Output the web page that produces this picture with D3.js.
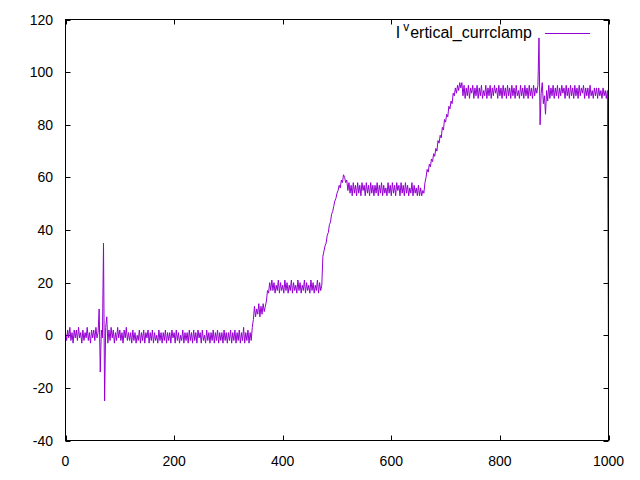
<!DOCTYPE html>
<html>
<head>
<meta charset="utf-8">
<style>
    body { margin: 0; background: #fff; }
    text { font-family: "Liberation Sans", Arial, sans-serif; }
</style>
<script src="https://cdn.jsdelivr.net/npm/d3@7/dist/d3.min.js"></script>
</head>
<body>
<svg width="640" height="480"></svg>
<script>
// samples every 2 time units (one row = 20 units)
var sampleStep = 2;
var current = [
    1, -2, 2, -1, 3, -2, 1, -3, 2, -1,
    2, -2, 3, -1, 1, -3, 2, -2, 1, -1,
    3, -2, 1, -3, 2, -1, 2, -2, 3, -1,
    1, 10, -14, 2, -1, 35, -25, 3, 7, -3,
    2, -2, 3, -1, 2, -3, 1, -2, 3, -1,
    2, -2, 1, -3, 2, -1, 3, -2, 1, -2,
    1, -3, 2, -2, 1, -3, 0, -2, 2, -3,
    1, -2, 2, -3, 1, -1, 2, -3, 1, -2,
    2, -3, 1, -2, 0, -3, 2, -2, 1, -3,
    1, -2, 2, -3, 1, -2, 1, -3, 2, -1,
    1, -3, 2, -2, 1, -3, 0, -2, 2, -3,
    1, -2, 1, -3, 2, -2, 1, -3, 2, -2,
    1, -3, 2, -1, 1, -3, 2, -2, 0, -3,
    2, -2, 1, -3, 1, -2, 2, -3, 1, -2,
    2, -3, 1, -2, 1, -3, 2, -2, 1, -3,
    1, -2, 2, -3, 1, -2, 2, -3, 1, -2,
    2, -3, 1, -2, 3, -3, 1, -2, 2, -3,
    1, -2, 3, 6, 11, 7, 10, 8, 12, 7,
    11, 8, 12, 9, 11, 13, 17, 16, 20, 17,
    21, 17, 20, 16, 19, 17, 21, 16, 20, 17,
    19, 16, 21, 17, 20, 16, 19, 17, 21, 16,
    20, 17, 19, 16, 21, 17, 20, 16, 19, 17,
    21, 16, 20, 17, 19, 16, 21, 17, 20, 16,
    19, 17, 21, 16, 20, 17, 19, 30, 32, 34,
    35, 38, 39, 42, 43, 46, 47, 49, 51, 52,
    54, 55, 57, 56, 59, 58, 61, 60, 58, 59,
    55, 58, 54, 57, 53, 58, 54, 57, 53, 58,
    54, 57, 53, 58, 55, 57, 53, 58, 54, 57,
    53, 58, 54, 57, 53, 57, 54, 58, 53, 57,
    54, 58, 53, 57, 54, 56, 53, 58, 54, 57,
    53, 58, 54, 57, 53, 58, 55, 57, 53, 58,
    54, 57, 53, 58, 54, 57, 53, 56, 54, 58,
    53, 57, 54, 56, 53, 57, 53, 56, 53, 55,
    54, 58, 60, 63, 62, 65, 64, 67, 66, 69,
    68, 71, 70, 74, 73, 76, 75, 79, 78, 82,
    81, 84, 83, 87, 86, 89, 88, 92, 91, 94,
    92, 95, 93, 96, 94, 96, 91, 95, 90, 94,
    91, 95, 90, 94, 92, 95, 90, 94, 91, 95,
    90, 94, 91, 95, 90, 93, 91, 95, 90, 94,
    91, 95, 90, 94, 91, 95, 92, 94, 90, 95,
    91, 94, 90, 95, 91, 94, 90, 95, 91, 94,
    90, 95, 91, 94, 90, 95, 91, 93, 90, 95,
    91, 94, 90, 95, 91, 94, 90, 95, 91, 94,
    90, 95, 91, 94, 92, 95, 113, 80, 92, 96,
    88, 91, 84, 93, 89, 95, 90, 94, 91, 95,
    90, 94, 91, 95, 90, 94, 91, 95, 92, 94,
    90, 95, 91, 94, 90, 95, 91, 94, 90, 95,
    91, 94, 90, 95, 91, 94, 92, 95, 90, 94,
    91, 94, 90, 95, 91, 93, 90, 94, 91, 94,
    90, 94, 91, 93, 90, 94, 91, 93, 90, 93,
    -10
];

var xTicks = [0, 200, 400, 600, 800, 1000];
var yTicks = [-40, -20, 0, 20, 40, 60, 80, 100, 120];
var seriesName = ["I", "v", "ertical_currclamp"];

var svg = d3.select("svg"),
    width = +svg.attr("width"),
    height = +svg.attr("height");

var plotLeft = 65.5, plotRight = 608.5, plotTop = 19.5, plotBottom = 440.5;
var tickLen = 5;
var lineColor = "#9400d3";

var x = d3.scaleLinear().domain([0, 1000]).range([plotLeft, plotRight]);
var y = d3.scaleLinear().domain([-40, 120]).range([plotBottom, plotTop]);

svg.append("defs")
    .append("clipPath")
        .attr("id", "plot-area")
    .append("rect")
        .attr("x", plotLeft)
        .attr("y", plotTop)
        .attr("width", plotRight - plotLeft)
        .attr("height", plotBottom - plotTop);

// ticks on all four sides, pointing inward
var ticks = svg.append("g")
    .attr("stroke", "#000")
    .attr("stroke-width", 1);

ticks.selectAll(".xtick")
    .data(xTicks)
    .enter()
        .append("path")
        .attr("d", function(d) {
            var px = Math.round(x(d)) + 0.5;
            return "M" + px + "," + plotBottom + "v" + (-tickLen) +
                   "M" + px + "," + plotTop + "v" + tickLen;
        });

ticks.selectAll(".ytick")
    .data(yTicks)
    .enter()
        .append("path")
        .attr("d", function(d) {
            var py = Math.round(y(d)) + 0.5;
            return "M" + plotLeft + "," + py + "h" + tickLen +
                   "M" + plotRight + "," + py + "h" + (-tickLen);
        });

svg.append("g")
    .selectAll("text")
    .data(xTicks)
    .enter()
        .append("text")
        .attr("x", function(d) { return x(d); })
        .attr("y", 466)
        .attr("text-anchor", "middle")
        .attr("font-size", 14)
        .text(function(d) { return d; });

svg.append("g")
    .selectAll("text")
    .data(yTicks)
    .enter()
        .append("text")
        .attr("x", 53)
        .attr("y", function(d) { return y(d); })
        .attr("dy", "0.36em")
        .attr("text-anchor", "end")
        .attr("font-size", 14)
        .text(function(d) { return d; });

var line = d3.line()
    .x(function(d, i) { return x(i * sampleStep); })
    .y(function(d) { return y(d); });

svg.append("path")
    .datum(current)
    .attr("clip-path", "url(#plot-area)")
    .attr("fill", "none")
    .attr("stroke", lineColor)
    .attr("stroke-width", 1)
    .attr("d", line);

svg.append("rect")
    .attr("x", plotLeft)
    .attr("y", plotTop)
    .attr("width", plotRight - plotLeft)
    .attr("height", plotBottom - plotTop)
    .attr("fill", "none")
    .attr("stroke", "#000")
    .attr("stroke-width", 1);

// key
var key = svg.append("text")
    .attr("x", 532)
    .attr("y", 38)
    .attr("text-anchor", "end")
    .attr("font-size", 16);
key.append("tspan").text(seriesName[0]);
key.append("tspan")
    .attr("dx", 3)
    .attr("dy", -7)
    .attr("font-size", 12)
    .text(seriesName[1]);
key.append("tspan")
    .attr("dx", 1)
    .attr("dy", 7)
    .text(seriesName[2]);

svg.append("line")
    .attr("x1", 545)
    .attr("x2", 590)
    .attr("y1", 33.5)
    .attr("y2", 33.5)
    .attr("stroke", lineColor)
    .attr("stroke-width", 1);
</script>
</body>
</html>
